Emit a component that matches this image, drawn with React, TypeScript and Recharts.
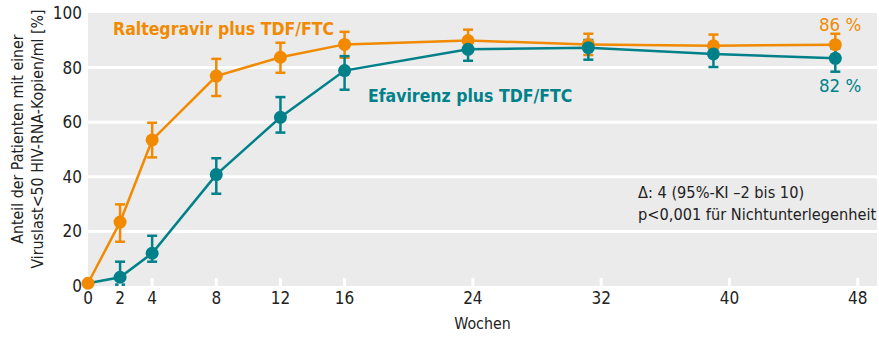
import { ComposedChart, Line, XAxis, YAxis, CartesianGrid, ErrorBar, ReferenceDot } from "recharts"

const weeks = [0, 2, 4, 8, 12, 16, 23.7, 31.2, 39, 46.6]

const raltegravir = [1, 23.4, 53.5, 76.9, 83.8, 88.5, 89.9, 88.5, 88, 88.4]
const raltegravirHigh = [null, 29.9, 59.8, 83.2, 89.1, 93.1, 93.9, 92.4, 92.1, 92.4]
const raltegravirLow = [null, 16.2, 47.1, 69.6, 78.1, 83.6, 86, 84.6, 84, 84.7]

const efavirenz = [1, 3.2, 12, 40.8, 61.8, 78.9, 86.7, 87.3, 85, 83.4]
const efavirenzHigh = [null, 8.9, 18.4, 46.8, 69.2, 84.2, 89.6, 90.1, 88.6, 87]
const efavirenzLow = [null, 0.5, 8.9, 33.8, 56.2, 71.9, 82.5, 82.9, 80.2, 78.5]

const xTicks = [0, 2, 4, 8, 12, 16, 24, 32, 40, 48]
const yTicks = [0, 20, 40, 60, 80, 100]

const ORANGE = "#f18a00"
const TEAL = "#00818a"
const FONT = "'DejaVu Sans Condensed', sans-serif"

const err = (v: number, lo: number | null, hi: number | null) =>
  lo == null || hi == null ? undefined : [v - lo, hi - v]

const data = weeks.map((w, i) => ({
  week: w,
  ral: raltegravir[i],
  ralErr: err(raltegravir[i], raltegravirLow[i], raltegravirHigh[i]),
  efa: efavirenz[i],
  efaErr: err(efavirenz[i], efavirenzLow[i], efavirenzHigh[i]),
}))

// text placed at data coordinates
const notes = [
  { x: 1.56, y: 92, text: "Raltegravir plus TDF/FTC", color: ORANGE, size: 17.5, bold: true, anchor: "start" },
  { x: 17.46, y: 67.4, text: "Efavirenz plus TDF/FTC", color: TEAL, size: 17.5, bold: true, anchor: "start" },
  { x: 46.9, y: 93.4, text: "86 %", color: ORANGE, size: 18.5, bold: false, anchor: "middle" },
  { x: 46.9, y: 71, text: "82 %", color: TEAL, size: 18.5, bold: false, anchor: "middle" },
  { x: 34.3, y: 32.4, text: "Δ: 4 (95%-KI –2 bis 10)", color: "#222", size: 16.2, bold: false, anchor: "start" },
  { x: 34.3, y: 24, text: "p<0,001 für Nichtunterlegenheit", color: "#222", size: 16.2, bold: false, anchor: "start" },
]

const tealDot = (props: any) => {
  const { cx, cy, payload, index } = props
  if (payload.week === 0) return <g key={`d${index}`} />
  return <circle key={`d${index}`} cx={cx} cy={cy} r={6.5} fill={TEAL} />
}

const YLabel = () => (
  <g fontFamily={FONT} fontSize={15.8} fill="#222">
    <text x={17} y={139} transform="rotate(-90, 17, 139)" textAnchor="middle" dominantBaseline="central">
      Anteil der Patienten mit einer
    </text>
    <text x={37} y={139} transform="rotate(-90, 37, 139)" textAnchor="middle" dominantBaseline="central">
      Viruslast&lt;50 HIV-RNA-Kopien/ml [%]
    </text>
  </g>
)

export default function App() {
  return (
    <div style={{ position: "absolute", left: 0, top: 0, width: 879, height: 338, background: "#fff" }}>
      <ComposedChart width={879} height={338} data={data} margin={{ top: 13, right: 2, left: 0, bottom: 22 }}>
        <CartesianGrid fill="#ebebeb" stroke="#fff" strokeWidth={3} vertical={false} horizontalValues={[20, 40, 60, 80]} />
        <XAxis
          dataKey="week"
          type="number"
          domain={[0, 49.2]}
          ticks={xTicks}
          height={30}
          axisLine={false}
          tickSize={-8}
          tickMargin={14}
          tickLine={{ stroke: "#fff", strokeWidth: 3 }}
          tick={{ fill: "#222", fontSize: 17, fontFamily: FONT }}
          label={{ value: "Wochen", position: "bottom", offset: 2, fill: "#222", fontSize: 15.8, fontFamily: FONT }}
        />
        <YAxis
          type="number"
          domain={[0, 100]}
          ticks={yTicks}
          width={88}
          axisLine={false}
          tickLine={false}
          tickSize={0}
          tickMargin={6}
          tick={{ fill: "#222", fontSize: 17, fontFamily: FONT }}
          label={<YLabel />}
        />
        <Line
          dataKey="ral"
          stroke={ORANGE}
          strokeWidth={2.5}
          dot={{ r: 6.5, fill: ORANGE, stroke: "none" }}
          activeDot={false}
          isAnimationActive={false}
        >
          <ErrorBar dataKey="ralErr" direction="y" width={5} stroke={ORANGE} strokeWidth={2.5} />
        </Line>
        <Line
          dataKey="efa"
          stroke={TEAL}
          strokeWidth={2.5}
          dot={tealDot}
          activeDot={false}
          isAnimationActive={false}
        >
          <ErrorBar dataKey="efaErr" direction="y" width={5} stroke={TEAL} strokeWidth={2.5} />
        </Line>
        {notes.map((n) => (
          <ReferenceDot
            key={n.text}
            x={n.x}
            y={n.y}
            r={0}
            ifOverflow="visible"
            shape={(p: any) => (
              <text
                x={p.cx}
                y={p.cy}
                textAnchor={n.anchor as any}
                fill={n.color}
                fontFamily={FONT}
                fontSize={n.size}
                fontWeight={n.bold ? "bold" : "normal"}
              >
                {n.text}
              </text>
            )}
          />
        ))}
      </ComposedChart>
    </div>
  )
}
